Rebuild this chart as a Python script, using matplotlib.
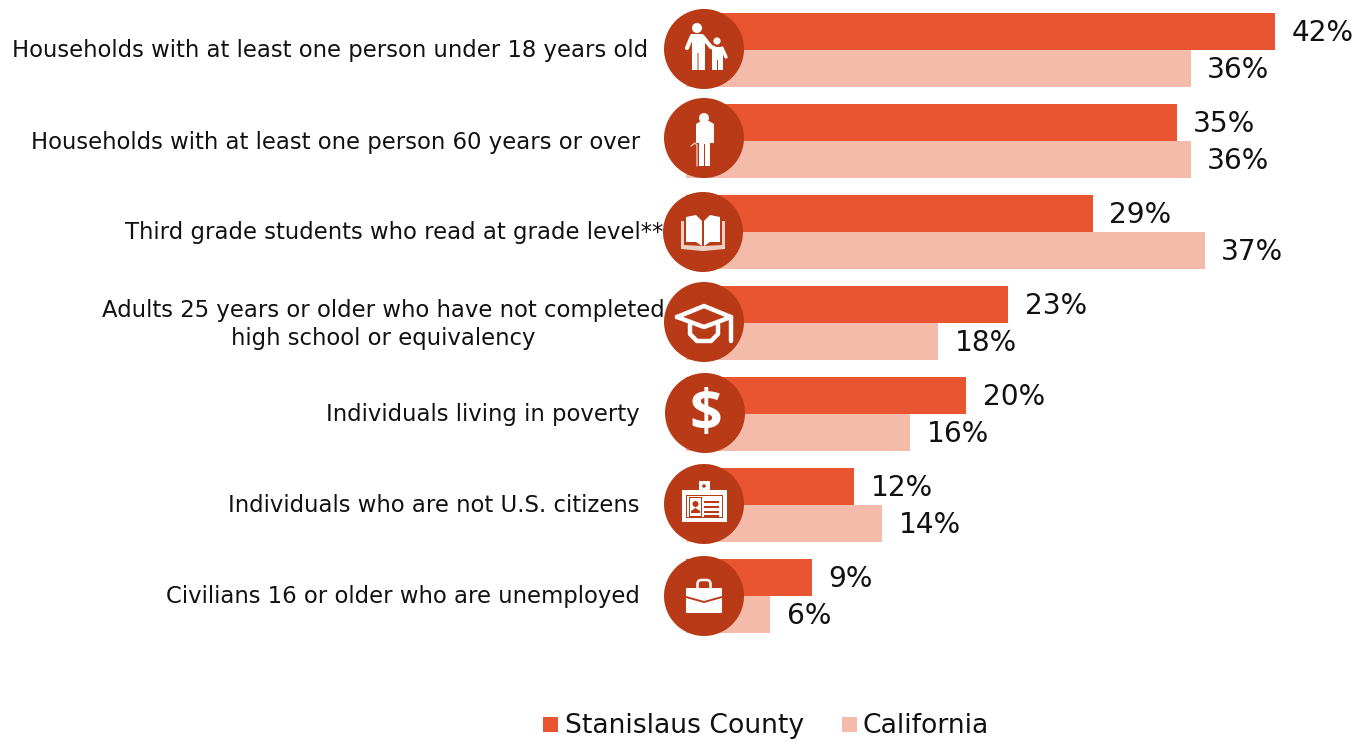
import matplotlib
matplotlib.use("Agg")
import matplotlib.pyplot as plt
from matplotlib.patches import Circle, Rectangle, Polygon, FancyBboxPatch

categories = ["Households with at least one person under 18 years old",
              "Households with at least one person 60 years or over",
              "Third grade students who read at grade level**",
              "Adults 25 years or older who have not completed\nhigh school or equivalency",
              "Individuals living in poverty",
              "Individuals who are not U.S. citizens",
              "Civilians 16 or older who are unemployed"]
stanislaus = [42, 35, 29, 23, 20, 12, 9]
california = [36, 36, 37, 18, 16, 14, 6]
series_names = ["Stanislaus County", "California"]

C1, C2, DARK, W = "#E85530", "#F5BBAA", "#B83A16", "white"
TXT = "#111111"
FW, FH = 1365, 742
X0, PXP = 686, 14.02
plt.rcParams["font.family"] = "DejaVu Sans"
fig = plt.figure(figsize=(FW/100, FH/100), dpi=100)

# bar axes: rows 91 px apart, first centred at px 50
ax = fig.add_axes([X0/FW, 0, (FW-X0)/FW, 1])
ax.set_xlim(0, (FW-X0)/PXP)
ax.set_ylim((742-50)/91, -50/91)
ax.axis("off")
h = 37/91
for i, (a, b) in enumerate(zip(stanislaus, california)):
    ax.barh(i-h/2, a, height=h, color=C1, lw=0)
    ax.barh(i+h/2, b, height=h, color=C2, lw=0)
    ax.annotate(f"{a}%", (a, i-h/2), xytext=(16.5, -1.5), textcoords="offset pixels",
                va="center", ha="left", fontsize=20.2, color=TXT)
    ax.annotate(f"{b}%", (b, i+h/2), xytext=(16.5, -1.5), textcoords="offset pixels",
                va="center", ha="left", fontsize=20.2, color=TXT)

# pixel overlay for labels, icons, legend
ov = fig.add_axes([0, 0, 1, 1])
ov.set_xlim(0, FW); ov.set_ylim(FH, 0); ov.axis("off"); ov.patch.set_alpha(0)
LS = 16.42
label_right = [648, 640, 663, None, 640, 640, 640]
label_y = [51, 142, 233, None, 415, 506, 597]
for i, c in enumerate(categories):
    if label_right[i] is None:
        l1, l2 = c.split("\n")
        ov.text(383, 310, l1, ha="center", va="center", fontsize=LS, color=TXT)
        ov.text(383, 338, l2, ha="center", va="center", fontsize=LS, color=TXT)
    else:
        ov.text(label_right[i], label_y[i], c, ha="right", va="center", fontsize=LS, color=TXT)

cent = [(704, 49), (704, 138), (703, 232), (704, 322), (705, 413), (704, 504), (704, 596)]
for (x, y) in cent:
    ov.add_patch(Circle((x, y), 40, color=DARK, lw=0, zorder=3))

def rect(x, y, w, h, c=W):
    ov.add_patch(Rectangle((x, y), w, h, color=c, lw=0, zorder=4))
def poly(pts, c=W):
    ov.add_patch(Polygon(pts, closed=True, color=c, lw=0, zorder=4))
def circ(x, y, r, c=W):
    ov.add_patch(Circle((x, y), r, color=c, lw=0, zorder=4))
def line(pts, lw, c=W):
    ov.plot(*zip(*pts), color=c, lw=lw, zorder=4, solid_capstyle="round", solid_joinstyle="round")

# adult and child
x, y = cent[0]
circ(x-7, y-21, 5)
poly([(x-13, y-15), (x-1, y-15), (x+1, y-10), (x+1, y+21), (x-5.5, y+21), (x-5.5, y+4), (x-6.5, y+4), (x-6.5, y+21), (x-12, y+21), (x-12, y-10)])
line([(x-12, y-13), (x-17, y-1)], 3.0)
line([(x-1, y-12), (x+7, y-2), (x+10, y-1)], 3.0)
circ(x+13, y-8, 3.6)
poly([(x+8, y-2), (x+19, y-2), (x+19, y+21), (x+14, y+21), (x+14, y+11), (x+13, y+11), (x+13, y+21), (x+8, y+21)])
line([(x+18, y-1), (x+22, y+8)], 2.4)

# elder with cane
x, y = cent[1]
circ(x, y-20, 5)
poly([(x-8, y-14), (x-3, y-17), (x+5, y-17), (x+10, y-14), (x+10, y+5), (x+6, y+5), (x+6, y+28), (x+1, y+28), (x+1, y+6), (x, y+6), (x, y+28), (x-5, y+28), (x-5, y+5), (x-8, y+5)])
line([(x-7, y+28), (x-7, y+7), (x-9, y+5), (x-13, y+8)], 1.0, "#E8C8BC")

# open book
x, y = cent[2]
poly([(x-22, y-11), (x-19, y-11), (x-19, y+13), (x-1, y+14), (x+1, y+14), (x+19, y+13), (x+19, y-11), (x+22, y-11), (x+22, y+17), (x+1, y+19), (x-1, y+19), (x-22, y+17)], "#EBCFC5")
poly([(x-17, y-15), (x-7, y-17), (x-1, y-11), (x-1, y+14), (x-7, y+10), (x-17, y+10)])
poly([(x+17, y-15), (x+7, y-17), (x+1, y-11), (x+1, y+14), (x+7, y+10), (x+17, y+10)])

# mortarboard
x, y = cent[3]
line([(x-27, y-5), (x, y-16), (x+27, y-5), (x, y+5), (x-27, y-5)], 3.2)
line([(x-14, y+2), (x-14, y+12), (x-7, y+19), (x+7, y+19), (x+14, y+12), (x+14, y+2)], 3.2)
line([(x+27, y-5), (x+27, y+19)], 3.2)

# dollar sign
x, y = cent[4]
ov.text(x+1, y+3, "$", ha="center", va="center", fontsize=41, fontweight="bold",
        family="Open Sans", color=W, zorder=5)

# id badge
x, y = cent[5]
rect(x-5, y-23, 11, 11)
circ(x, y-18, 1.8, DARK)
rect(x-22, y-14, 45, 32)
rect(x-18, y-9, 37, 23, DARK)
rect(x-17, y-8, 35, 21)
rect(x-15, y-7, 13, 20, DARK)
rect(x-14, y-6, 11, 18)
circ(x-8.5, y+0, 3, DARK)
poly([(x-13, y+9), (x-13, y+7), (x-8.5, y+4), (x-4, y+7), (x-4, y+9)], DARK)
for dy in (-3, 2, 7, 11):
    rect(x, y+dy, 15, 1.8, DARK)

# briefcase
x, y = cent[6]
ov.add_patch(FancyBboxPatch((x-6.5, y-16), 13, 12, boxstyle="round,pad=0,rounding_size=4", fc="none", ec=W, lw=1.8, zorder=4))
poly([(x-18, y-8), (x+18, y-8), (x+18, y+0), (x, y+5), (x-18, y+0)])
poly([(x-18, y+2), (x, y+7), (x+18, y+2), (x+18, y+17), (x-18, y+17)])

# legend
rect(543, 717, 15, 15, C1)
rect(842, 717, 15, 15, C2)
ov.text(565, 726, series_names[0], ha="left", va="center", fontsize=19.2, color=TXT)
ov.text(863, 726, series_names[1], ha="left", va="center", fontsize=19.2, color=TXT)

fig.savefig("out.png", dpi=100, facecolor="white")
